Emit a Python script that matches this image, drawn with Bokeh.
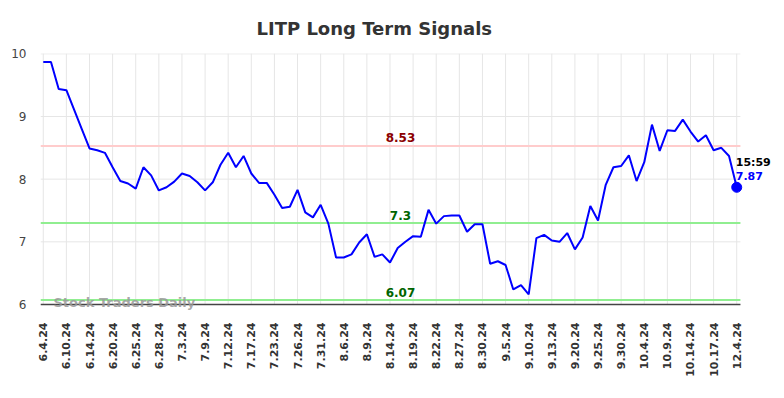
import math
from bokeh.plotting import figure
from bokeh.models import ColumnDataSource, FixedTicker, Label
from bokeh.embed import file_html
from bokeh.resources import INLINE

title_text = "LITP Long Term Signals"
tick_labels = ["6.4.24", "6.10.24", "6.14.24", "6.20.24", "6.25.24", "6.28.24",
               "7.3.24", "7.9.24", "7.12.24", "7.17.24", "7.23.24", "7.26.24",
               "7.31.24", "8.6.24", "8.9.24", "8.14.24", "8.19.24", "8.22.24",
               "8.27.24", "8.30.24", "9.5.24", "9.10.24", "9.13.24", "9.20.24",
               "9.25.24", "9.30.24", "10.4.24", "10.9.24", "10.14.24", "10.17.24",
               "12.4.24"]
prices = [9.87, 9.87, 9.44, 9.42, 9.11, 8.80, 8.49, 8.46, 8.42, 8.19,
          7.97, 7.93, 7.85, 8.19, 8.06, 7.82, 7.87, 7.96, 8.09, 8.05,
          7.95, 7.82, 7.95, 8.23, 8.42, 8.19, 8.37, 8.09, 7.94, 7.94,
          7.75, 7.54, 7.56, 7.83, 7.47, 7.39, 7.59, 7.29, 6.75, 6.75,
          6.80, 6.99, 7.12, 6.76, 6.80, 6.67, 6.90, 7.00, 7.09, 7.08,
          7.51, 7.29, 7.41, 7.42, 7.42, 7.16, 7.28, 7.28, 6.65, 6.69,
          6.63, 6.24, 6.31, 6.16, 7.06, 7.11, 7.02, 7.00, 7.14, 6.88,
          7.07, 7.57, 7.34, 7.91, 8.19, 8.21, 8.38, 7.97, 8.27, 8.87,
          8.45, 8.78, 8.77, 8.95, 8.76, 8.60, 8.70, 8.46, 8.50, 8.37,
          7.87]
points_per_label = 3
resistance = 8.53
middle = 7.3
support = 6.07
last_time = "15:59"
watermark = "Stock Traders Daily"
y_ticks = [6, 7, 8, 9, 10]

xs = list(range(len(prices)))
src = ColumnDataSource(dict(x=xs, y=prices))

# plot-area geometry (visible chart area is narrower than the frame so
# that the end labels and watermark are not clipped)
X_LO, X_HI = -0.36, len(prices) - 1 + 0.48
X_END = -0.36 + 732 / 7.705
Y_LO, Y_HI = 6, 10
Y_START, Y_END = 5.904, 10.005

p = figure(width=776, height=396, output_backend="svg", toolbar_location=None,
           x_range=(X_LO, X_END), y_range=(Y_START, Y_END),
           min_border_left=40, min_border_right=4, min_border_top=53,
           min_border_bottom=86, background_fill_color="white",
           border_fill_color="white")
p.outline_line_color = None
p.xgrid.visible = False
p.ygrid.visible = False

# title
p.title.text = title_text
p.title.align = "left"
p.title.offset = 216
p.title.text_font = "DejaVu Sans"
p.title.text_font_style = "bold"
p.title.text_font_size = "18px"
p.title.text_color = "#333333"
p.title.standoff = 30

# x axis
tick_pos = list(range(0, len(prices), points_per_label))
p.xaxis.ticker = FixedTicker(ticks=tick_pos)
p.xaxis.major_label_overrides = {t: lab for t, lab in zip(tick_pos, tick_labels)}
p.xaxis.major_label_orientation = math.pi / 2
p.xaxis.major_label_text_font = "DejaVu Sans"
p.xaxis.major_label_text_font_style = "bold"
p.xaxis.major_label_text_font_size = "11px"
p.xaxis.major_label_text_color = "#333333"
p.xaxis.major_label_standoff = 6
p.xaxis.major_tick_line_color = None
p.xaxis.minor_tick_line_color = None
p.xaxis.axis_line_color = None

# y axis
p.yaxis.ticker = FixedTicker(ticks=y_ticks)
p.yaxis.major_label_text_font = "DejaVu Sans"
p.yaxis.major_label_text_font_size = "12px"
p.yaxis.major_label_text_color = "#444444"
p.yaxis.major_label_standoff = 8
p.yaxis.major_tick_line_color = None
p.yaxis.minor_tick_line_color = None
p.yaxis.axis_line_color = None

# grid lines (drawn over the visible chart area only)
p.segment(x0=[X_LO] * len(y_ticks), x1=[X_HI] * len(y_ticks), y0=y_ticks, y1=y_ticks,
          line_color="#e6e6e6", line_width=1)
p.segment(x0=tick_pos, x1=tick_pos, y0=[Y_LO] * len(tick_pos), y1=[Y_END] * len(tick_pos),
          line_color="#e6e6e6", line_width=1)

# signal lines
levels = [resistance, middle, support]
level_colors = ["#ffcccc", "#90ee90", "#90ee90"]
p.segment(x0=[X_LO] * 3, x1=[X_HI] * 3, y0=levels, y1=levels,
          line_color=level_colors, line_width=2)

# bottom axis line
p.segment(x0=[X_LO], x1=[X_HI], y0=[Y_LO], y1=[Y_LO], line_color="#444444", line_width=1.5)

# price line
p.line("x", "y", source=src, line_color="#0000ff", line_width=2)
p.scatter([xs[-1]], [prices[-1]], size=10, color="#0000ff")

lab_font = "DejaVu Sans"
text_colors = ["#8b0000", "#006400", "#006400"]
for val, col in zip(levels, text_colors):
    p.add_layout(Label(x=360, x_units="screen", y=val, text=str(val),
                       text_align="center", text_baseline="alphabetic", y_offset=8,
                       text_font=lab_font, text_font_style="bold",
                       text_font_size="12px", text_color=col))

p.add_layout(Label(x=xs[-1], y=prices[-1], text=last_time, x_offset=-1, y_offset=25,
                   text_align="left", text_baseline="alphabetic",
                   text_font=lab_font, text_font_style="bold",
                   text_font_size="11px", text_color="#000000"))
p.add_layout(Label(x=xs[-1], y=prices[-1], text=f"{prices[-1]:.2f}", x_offset=-1, y_offset=11,
                   text_align="left", text_baseline="alphabetic",
                   text_font=lab_font, text_font_style="bold",
                   text_font_size="11px", text_color="#0000ff"))

# watermark
p.add_layout(Label(x=13, y=8, x_units="screen", y_units="screen", text=watermark,
                   text_align="left", text_baseline="alphabetic",
                   text_font=lab_font, text_font_style="bold", text_font_size="13px",
                   text_color="#999999", text_alpha=0.85))

open("out.html", "w").write(file_html(p, INLINE))
